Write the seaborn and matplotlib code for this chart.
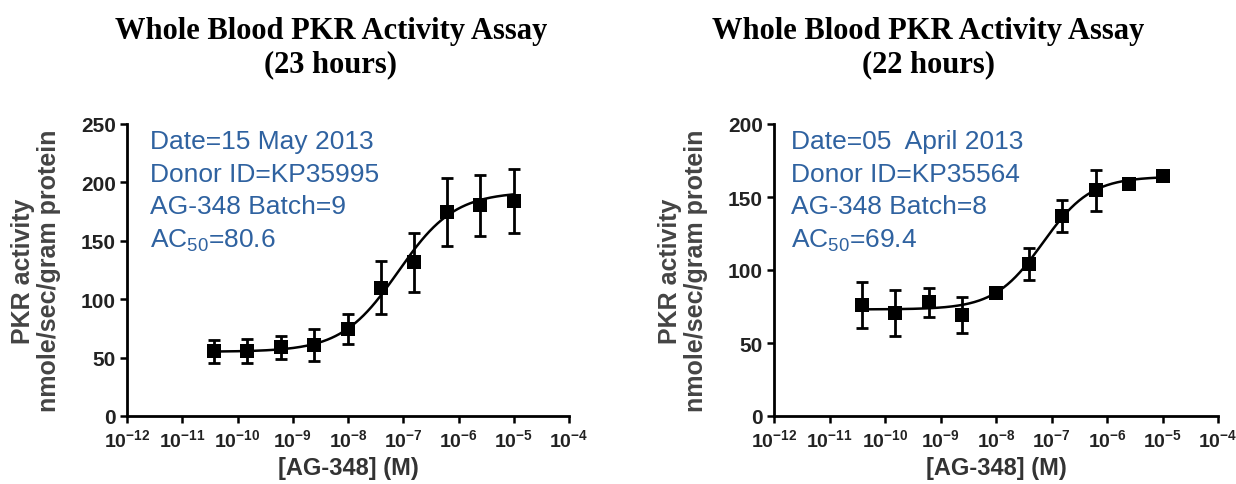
import numpy as np
import pandas as pd
import matplotlib
matplotlib.use("Agg")
import matplotlib.pyplot as plt
import seaborn as sns
from matplotlib.ticker import LogLocator, FuncFormatter, NullLocator, MultipleLocator

# ---------------- data ----------------
conc_M = [3.8e-11, 1.5e-10, 6.1e-10, 2.4e-9, 9.8e-9, 3.9e-8, 1.56e-7, 6.25e-7, 2.5e-6, 1.0e-5]

left_mean = [55.4, 55.5, 58.8, 61.0, 74.7, 110.0, 131.5, 174.7, 180.4, 184.0]
left_err = [10.0, 10.5, 10.0, 13.5, 12.8, 23.0, 25.0, 29.0, 26.0, 27.5]
left_fit = dict(bottom=55.0, top=192.0, ac50=80.6e-9, hill=0.85)

right_mean = [76.1, 70.5, 78.0, 69.3, 84.0, 104.0, 137.0, 154.5, 159.0, 164.3]
right_err = [15.5, 15.6, 10.0, 12.5, 2.5, 10.8, 11.0, 14.0, 1.5, 1.5]
right_fit = dict(bottom=73.0, top=164.0, ac50=69.4e-9, hill=1.0)

titles = ["Whole Blood PKR Activity Assay\n(23 hours)",
          "Whole Blood PKR Activity Assay\n(22 hours)"]
notes = ["Date=15 May 2013\nDonor ID=KP35995\nAG-348 Batch=9\nAC$_{50}$=80.6",
         "Date=05  April 2013\nDonor ID=KP35564\nAG-348 Batch=8\nAC$_{50}$=69.4"]
y_max = [250, 200]
y_label = "PKR activity\nnmole/sec/gram protein"
x_label = "[AG-348] (M)"

# ---------------- style ----------------
sns.set_theme(style="ticks")
plt.rcParams["font.family"] = ["Liberation Sans", "DejaVu Sans"]
plt.rcParams["mathtext.default"] = "regular"

fig = plt.figure(figsize=(12.36, 4.85), dpi=100)
axes_pos = [[127 / 1236, 68 / 485, 442 / 1236, 292 / 485],
            [774 / 1236, 68 / 485, 444 / 1236, 292 / 485]]
title_x = [331 / 1236, 928 / 1236]
note_x = [150, 791]


def exp_fmt(v, pos):
    n = int(round(np.log10(v)))
    return "$10^{-%d}$" % (-n) if n < 0 else "$10^{%d}$" % n


datasets = [(left_mean, left_err, left_fit), (right_mean, right_err, right_fit)]

for i, (mean, err, fit) in enumerate(datasets):
    ax = fig.add_axes(axes_pos[i])
    df = pd.DataFrame({"conc": conc_M, "activity": mean, "err": err})

    xs = np.logspace(np.log10(conc_M[0]), np.log10(conc_M[-1]), 300)
    ys = fit["bottom"] + (fit["top"] - fit["bottom"]) / (1 + (fit["ac50"] / xs) ** fit["hill"])
    sns.lineplot(x=xs, y=ys, ax=ax, color="black", lw=1.8, zorder=2)

    ax.errorbar(df["conc"], df["activity"], yerr=df["err"], fmt="none",
                ecolor="black", elinewidth=2.0, capsize=4.5, capthick=2.0, zorder=3)
    sns.scatterplot(data=df, x="conc", y="activity", ax=ax, marker="s", s=90,
                    color="black", edgecolor="black", linewidth=0, zorder=4)

    ax.set_xscale("log")
    ax.set_xlim(1e-12, 1e-4)
    ax.set_ylim(0, y_max[i])
    ax.xaxis.set_major_locator(LogLocator(base=10, numticks=20))
    ax.xaxis.set_major_formatter(FuncFormatter(exp_fmt))
    ax.xaxis.set_minor_locator(NullLocator())
    ax.yaxis.set_major_locator(MultipleLocator(50))

    for s in ["top", "right"]:
        ax.spines[s].set_visible(False)
    for s in ["left", "bottom"]:
        ax.spines[s].set_linewidth(2.0)
        ax.spines[s].set_color("black")
    ax.tick_params(axis="both", which="major", length=5, width=1.8, color="black",
                   labelcolor="#222222", pad=3, direction="out")
    ax.tick_params(axis="x", labelsize=14, pad=4)
    ax.tick_params(axis="y", labelsize=15)
    for lab in ax.get_xticklabels() + ax.get_yticklabels():
        lab.set_fontweight("bold")

    ax.set_xlabel(x_label, fontsize=17, fontweight="bold", color="#333333", labelpad=4)
    ax.set_ylabel(y_label, fontsize=18, fontweight="bold", color="#444444", labelpad=14,
                  linespacing=1.15)
    ax.grid(False)

    fig.text(note_x[i] / 1236, 1 - 130 / 485, notes[i], fontsize=19, color="#2F62A0",
             ha="left", va="top", linespacing=1.45)

    fig.text(title_x[i], 1 - 17 / 485, titles[i], fontsize=22, fontweight="bold",
             family=["Liberation Serif", "DejaVu Serif"], ha="center", va="top",
             linespacing=1.2, color="black")

fig.savefig("out.png", dpi=100, facecolor="white")
